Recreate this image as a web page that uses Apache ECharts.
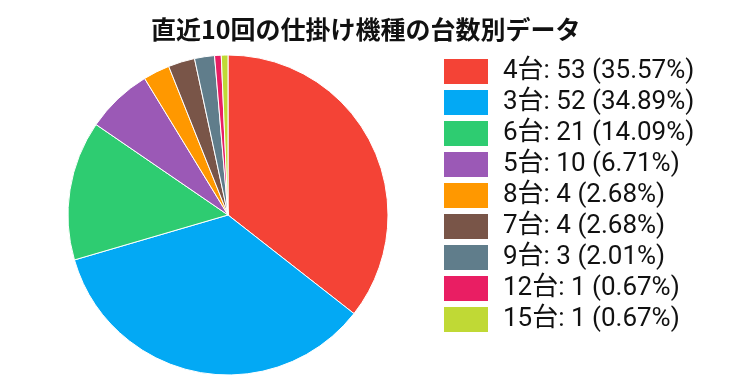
<!DOCTYPE html>
<html><head><meta charset="utf-8">
<script src="https://cdn.jsdelivr.net/npm/echarts@6/dist/echarts.min.js"></script>
<style>html,body{margin:0;padding:0;background:#fff}#c{width:750px;height:375px}</style>
</head><body><div id="c"></div>
<script>
const titleText = '直近10回の仕掛け機種の台数別データ';
const categories = ['4台','3台','6台','5台','8台','7台','9台','12台','15台'];
const values = [53,52,21,10,4,4,3,1,1];
const colors = ['#F44336','#03A9F4','#2ECC71','#9B59B6','#FF9800','#795548','#607D8B','#E91E63','#C0D935'];

const total = values.reduce((a,b)=>a+b,0);
const pct = v => (Math.floor(v/total*10000)/100).toFixed(2);
const data = categories.map((n,i)=>({name:n,value:values[i]}));
const chart = echarts.init(document.getElementById('c'));
chart.setOption({
  animation:false,
  color:colors,
  title:{text:titleText,left:146,top:12,textStyle:{fontFamily:"'Noto Sans CJK JP'",fontWeight:'bold',fontSize:25,color:'#111'}},
  legend:{orient:'vertical',left:442,top:57,itemWidth:46,itemHeight:27,itemGap:2,icon:'rect',
    padding:0,
    formatter:function(name){const i=categories.indexOf(name);return name+': '+values[i]+' ('+pct(values[i])+'%)';},
    textStyle:{fontFamily:"Roboto,'Noto Sans CJK JP'",fontSize:26,color:'#111',padding:[0,0,0,9],lineHeight:27}},
  series:[{type:'pie',center:[228,215],radius:160,startAngle:90,clockwise:true,
    label:{show:false},labelLine:{show:false},
    itemStyle:{borderColor:'#fff',borderWidth:1},
    emphasis:{disabled:true},
    data:data}]
});
</script></body></html>
